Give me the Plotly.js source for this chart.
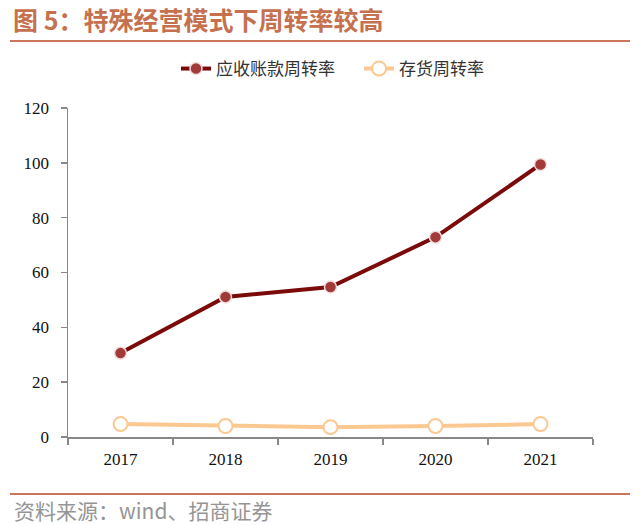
<!DOCTYPE html>
<html>
<head>
<meta charset="utf-8">
<script src="https://cdn.plot.ly/plotly-3.0.1.min.js"></script>
<style>html,body{margin:0;padding:0;background:#fff;} #chart{width:640px;height:525px;}</style>
</head>
<body>
<div id="chart"></div>
<script>
const years = ['2017', '2018', '2019', '2020', '2021'];
const receivableTurnover = [30.6, 51.1, 54.7, 72.9, 99.4];
const inventoryTurnover = [4.7, 4.0, 3.6, 4.0, 4.7];
const yTicks = [0, 20, 40, 60, 80, 100, 120];
const seriesNames = ['应收账款周转率', '存货周转率'];
const titleText = '图 5：特殊经营模式下周转率较高';
const sourceText = '资料来源：wind、招商证券';

const L = 68, R = 593, T = 108, B = 437;
const px = x => (x - L) / (R - L);
const py = y => (B - y) / (B - T);

const traces = [
  {
    x: years, y: receivableTurnover, name: seriesNames[0] + '\u00a0\u00a0\u00a0\u00a0\u00a0', type: 'scatter', mode: 'lines+markers',
    line: {color: '#7b0a0a', width: 4},
    marker: {color: '#a33a3a', size: 12, line: {color: '#f3dede', width: 1.5}}
  },
  {
    x: years, y: inventoryTurnover, name: seriesNames[1], type: 'scatter', mode: 'lines+markers',
    line: {color: '#fcc892', width: 4},
    marker: {color: '#ffffff', size: 14, line: {color: '#fcc892', width: 2}}
  }
];

const layout = {
  width: 640, height: 525,
  margin: {l: L, r: 640 - R, t: T, b: 525 - B, pad: 0},
  paper_bgcolor: '#ffffff', plot_bgcolor: '#ffffff',
  font: {family: '"Liberation Serif", "Times New Roman", serif', color: '#222'},
  showlegend: true,
  legend: {
    orientation: 'h', x: px(333), xanchor: 'center', y: py(69), yanchor: 'middle',
    font: {family: '"Noto Sans CJK SC", sans-serif', size: 17, color: '#333'},
    traceorder: 'normal'
  },
  xaxis: {
    type: 'category', range: [-0.5, 4.5], tickvals: years, ticktext: years,
    showline: true, linecolor: '#888', linewidth: 1.5,
    ticks: 'outside', ticklen: 6, tickcolor: '#888', tickwidth: 1.5, tickson: 'boundaries',
    ticklabelstandoff: 6,
    showgrid: false, zeroline: false,
    tickfont: {family: '"Liberation Serif", serif', size: 17, color: '#111'}
  },
  yaxis: {
    range: [0, 120], tickvals: yTicks, ticktext: yTicks.map(String),
    showline: true, linecolor: '#888', linewidth: 1.5,
    ticks: 'outside', ticklen: 6, tickcolor: '#888', tickwidth: 1.5,
    ticklabelstandoff: 8,
    showgrid: false, zeroline: false,
    tickfont: {family: '"Liberation Serif", serif', size: 17, color: '#111'}
  },
  shapes: [
    {type: 'line', xref: 'paper', yref: 'paper', x0: px(10), x1: px(630), y0: py(41), y1: py(41),
     line: {color: '#c9765a', width: 2}},
    {type: 'line', xref: 'paper', yref: 'paper', x0: px(10), x1: px(630), y0: py(494), y1: py(494),
     line: {color: '#c9765a', width: 2}}
  ],
  annotations: [
    {text: '<b>' + titleText + '</b>', xref: 'paper', yref: 'paper', x: px(11), y: py(19),
     xanchor: 'left', yanchor: 'middle', showarrow: false,
     font: {family: '"Noto Sans CJK SC", sans-serif', size: 25, color: '#c5714f'}},
    {text: sourceText, xref: 'paper', yref: 'paper', x: px(12), y: py(510),
     xanchor: 'left', yanchor: 'middle', showarrow: false,
     font: {family: '"Noto Sans CJK SC", sans-serif', size: 21, color: '#959595'}}
  ]
};

Plotly.newPlot('chart', traces, layout, {displayModeBar: false, staticPlot: true});
</script>
</body>
</html>
